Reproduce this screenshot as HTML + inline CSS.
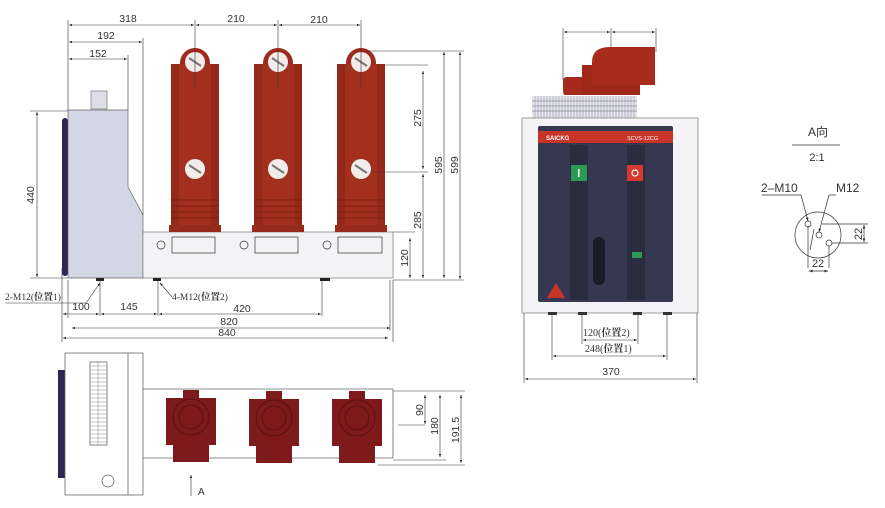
<!DOCTYPE html>
<html><head><meta charset="utf-8"><style>
html,body{margin:0;padding:0;background:#fff;}
svg{display:block;}
text{font-family:"Liberation Sans","Noto Sans CJK SC",sans-serif;fill:#333;}
.s{font-family:"Liberation Serif","Noto Serif CJK SC",serif;}
</style></head><body>
<svg width="885" height="508" viewBox="0 0 885 508" xmlns="http://www.w3.org/2000/svg">
<defs>
<marker id="a" viewBox="0 0 8 8" refX="8" refY="4" markerWidth="5" markerHeight="5" orient="auto-start-reverse"><path d="M0,1L8,4L0,7z" fill="#222"/></marker>
<g id="pole">
<circle cx="0" cy="63" r="15" fill="#9e2a1d"/>
<rect x="-24" y="64" width="48" height="161" fill="#a3301f"/>
<rect x="-24" y="64" width="8" height="161" fill="#8a2417" opacity="0.6"/>
<rect x="16" y="64" width="8" height="161" fill="#8a2417" opacity="0.6"/>
<g stroke="#7a1e12" stroke-width="1"><line x1="-24" y1="200" x2="24" y2="200"/><line x1="-24" y1="206" x2="24" y2="206"/><line x1="-24" y1="212" x2="24" y2="212"/><line x1="-24" y1="218" x2="24" y2="218"/></g>
<rect x="-26" y="225" width="52" height="7" fill="#962a1b"/>
<circle cx="0" cy="62" r="10" fill="#f2ecea"/>
<circle cx="0" cy="169" r="10" fill="#f2ecea"/>
<path d="M-6,58 L6,66 M-6,165 L6,173" stroke="#777" stroke-width="2"/>
</g>
<g id="ins">
<path d="M-8,0 H8 V8 H25 V55 H18 V72 H-18 V55 H-25 V8 H-8 Z" fill="#7e1a1c"/>
<circle cx="0" cy="27" r="18" fill="none" stroke="#5a1012" stroke-width="1"/>
<circle cx="0" cy="27" r="12" fill="none" stroke="#5a1012" stroke-width="1"/>
</g>
</defs>
<g fill="none" stroke="#333" stroke-width="0.7">
<rect x="62" y="118" width="6" height="158" fill="#2e2653" stroke="none" rx="3"/>
<path d="M68,110 H128 V187 L143,215 V278 H68 Z" fill="#d3d6e4" stroke="#666"/>
<rect x="91" y="91" width="16" height="18" fill="#dcdde6" stroke="#777"/>
<rect x="143" y="232" width="250" height="46" fill="#f3f3f6" stroke="#777"/>
<circle cx="161" cy="245" r="4"/><circle cx="244" cy="245" r="4"/><circle cx="327" cy="245" r="4"/>
<rect x="172" y="237" width="43" height="16"/><rect x="255" y="237" width="43" height="16"/><rect x="338" y="237" width="44" height="16"/>
</g>
<use href="#pole" x="195"/><use href="#pole" x="278"/><use href="#pole" x="361"/>
<g fill="none" stroke="#333" stroke-width="0.6">
<line x1="68" y1="20" x2="68" y2="110"/><line x1="143" y1="38" x2="143" y2="215"/><line x1="128" y1="55" x2="128" y2="110"/>
<line x1="195" y1="20" x2="195" y2="88"/><line x1="278" y1="20" x2="278" y2="88"/><line x1="361" y1="20" x2="361" y2="88"/>
<line x1="69" y1="25" x2="194" y2="25" marker-start="url(#a)" marker-end="url(#a)"/>
<line x1="196" y1="25" x2="277" y2="25" marker-start="url(#a)" marker-end="url(#a)"/>
<line x1="279" y1="25" x2="360" y2="25" marker-start="url(#a)" marker-end="url(#a)"/>
<line x1="69" y1="42" x2="142" y2="42" marker-start="url(#a)" marker-end="url(#a)"/>
<line x1="69" y1="59" x2="127" y2="59" marker-start="url(#a)" marker-end="url(#a)"/>
<line x1="365" y1="51" x2="464" y2="51"/><line x1="385" y1="65" x2="428" y2="65"/><line x1="372" y1="172" x2="428" y2="172"/>
<line x1="393" y1="232" x2="415" y2="232"/><line x1="393" y1="280" x2="464" y2="280"/>
<line x1="460" y1="52" x2="460" y2="279" marker-start="url(#a)" marker-end="url(#a)"/>
<line x1="444" y1="52" x2="444" y2="278" marker-start="url(#a)" marker-end="url(#a)"/>
<line x1="423" y1="71" x2="423" y2="169" marker-start="url(#a)" marker-end="url(#a)"/>
<line x1="423" y1="174" x2="423" y2="278" marker-start="url(#a)" marker-end="url(#a)"/>
<line x1="410" y1="238" x2="410" y2="278" marker-start="url(#a)" marker-end="url(#a)"/>
<line x1="30" y1="111" x2="68" y2="111"/><line x1="30" y1="278" x2="68" y2="278"/>
<line x1="37" y1="112" x2="37" y2="277" marker-start="url(#a)" marker-end="url(#a)"/>
<line x1="62" y1="268" x2="62" y2="342"/><line x1="68" y1="280" x2="68" y2="318"/><line x1="100" y1="280" x2="100" y2="316"/>
<line x1="158" y1="280" x2="158" y2="316"/><line x1="322" y1="280" x2="322" y2="316"/><line x1="390" y1="280" x2="390" y2="330"/><line x1="393" y1="280" x2="393" y2="342"/>
<line x1="63" y1="314" x2="99" y2="314" marker-start="url(#a)" marker-end="url(#a)"/>
<line x1="101" y1="314" x2="157" y2="314" marker-start="url(#a)" marker-end="url(#a)"/>
<line x1="159" y1="314" x2="321" y2="314" marker-start="url(#a)" marker-end="url(#a)"/>
<line x1="72" y1="328" x2="390" y2="328" marker-start="url(#a)" marker-end="url(#a)"/>
<line x1="63" y1="338" x2="388" y2="338" marker-start="url(#a)" marker-end="url(#a)"/>
<line x1="5" y1="303" x2="86" y2="303"/><line x1="86" y1="303" x2="100" y2="283" marker-end="url(#a)"/>
<line x1="172" y1="297" x2="160" y2="283" marker-end="url(#a)"/>
</g>
<g fill="#222">
<rect x="96" y="278" width="8" height="3"/><rect x="153" y="278" width="8" height="3"/><rect x="320" y="278" width="10" height="3"/>
</g>
<g font-size="10.5">
<text x="128" y="22" text-anchor="middle">318</text>
<text x="236" y="22" text-anchor="middle">210</text>
<text x="319" y="23" text-anchor="middle">210</text>
<text x="106" y="39" text-anchor="middle">192</text>
<text x="98" y="57" text-anchor="middle">152</text>
<text x="81" y="314" text-anchor="middle" dy="-4">100</text>
<text x="129" y="310" text-anchor="middle">145</text>
<text x="242" y="312" text-anchor="middle">420</text>
<text x="229" y="325" text-anchor="middle">820</text>
<text x="227" y="336" text-anchor="middle">840</text>
<text transform="translate(34,195) rotate(-90)" text-anchor="middle">440</text>
<text transform="translate(421,118) rotate(-90)" text-anchor="middle">275</text>
<text transform="translate(421,220) rotate(-90)" text-anchor="middle">285</text>
<text transform="translate(408,258) rotate(-90)" text-anchor="middle">120</text>
<text transform="translate(442,165) rotate(-90)" text-anchor="middle">595</text>
<text transform="translate(458,165) rotate(-90)" text-anchor="middle">599</text>
</g>
<text class="s" x="5" y="300" font-size="9.5">2-M12(<tspan font-weight="bold">位置</tspan>1)</text>
<text class="s" x="172" y="300" font-size="9.5">4-M12(<tspan font-weight="bold">位置</tspan>2)</text>

<g stroke="#333" stroke-width="0.6" fill="none">
<line x1="563" y1="28" x2="563" y2="80"/><line x1="611" y1="28" x2="611" y2="65"/><line x1="656" y1="28" x2="656" y2="52"/>
<line x1="564" y1="32" x2="610" y2="32" marker-start="url(#a)" marker-end="url(#a)"/>
<line x1="612" y1="32" x2="655" y2="32" marker-start="url(#a)" marker-end="url(#a)"/>
</g>
<path d="M567,77 H584 V95 H565 Q563,95 563,90 V81 Q563,77 567,77 Z" fill="#a52a1c"/>
<path d="M582,65 H630 L640,80 V95 H582 Z" fill="#a02818"/>
<path d="M592,85 V62 Q592,47 610,47 H655 V85 Z" fill="#a82c1d"/>
<rect x="532" y="96" width="105" height="22" fill="#e4e4ea"/>
<g stroke="#8a8aa0" stroke-width="0.8">
<line x1="532" y1="101" x2="637" y2="101"/><line x1="532" y1="106" x2="637" y2="106"/><line x1="532" y1="111" x2="637" y2="111"/>
</g>
<g stroke="#9a9ab0" stroke-width="0.6">
<path d="M535,96v22M538,96v22M541,96v22M544,96v22M547,96v22M550,96v22M553,96v22M556,96v22M559,96v22M562,96v22M565,96v22M568,96v22M571,96v22M574,96v22M577,96v22M580,96v22M583,96v22M586,96v22M589,96v22M592,96v22M595,96v22M598,96v22M601,96v22M604,96v22M607,96v22M610,96v22M613,96v22M616,96v22M619,96v22M622,96v22M625,96v22M628,96v22M631,96v22M634,96v22"/>
</g>
<rect x="522" y="118" width="176" height="195" fill="#f4f4f6" stroke="#888" stroke-width="0.8"/>
<rect x="538" y="126" width="135" height="176" fill="#353850" rx="2"/>
<rect x="538" y="131" width="135" height="12" fill="#c83428"/>
<text x="546" y="140" font-size="6" font-weight="bold" style="fill:#fff">SAICKG</text>
<text x="627" y="140" font-size="5.5" style="fill:#fff">SCVS-12CG</text>
<rect x="570" y="145" width="18" height="155" fill="#2a2c40"/>
<rect x="627" y="145" width="18" height="155" fill="#2a2c40"/>
<rect x="571" y="165" width="16" height="16" fill="#2c9a55"/>
<rect x="627" y="165" width="16" height="16" fill="#d43a30"/>
<circle cx="635" cy="173" r="3" fill="none" stroke="#fff" stroke-width="1.2"/>
<rect x="578" y="169" width="1.5" height="8" fill="#fff"/>
<rect x="593" y="237" width="12" height="48" rx="6" fill="#1a1b28"/>
<rect x="632" y="252" width="10" height="6" fill="#2c9a55"/>
<path d="M556,283 L565,298 H547 Z" fill="#c83428"/>
<g fill="#333"><rect x="548" y="312" width="9" height="3"/><rect x="578" y="312" width="9" height="3"/><rect x="633" y="312" width="9" height="3"/><rect x="663" y="312" width="9" height="3"/></g>
<g stroke="#333" stroke-width="0.6" fill="none">
<line x1="552" y1="314" x2="552" y2="360"/><line x1="582" y1="314" x2="582" y2="344"/><line x1="638" y1="314" x2="638" y2="344"/><line x1="667" y1="314" x2="667" y2="360"/>
<line x1="524" y1="313" x2="524" y2="383"/><line x1="697" y1="313" x2="697" y2="383"/>
<line x1="583" y1="340" x2="637" y2="340" marker-start="url(#a)" marker-end="url(#a)"/>
<line x1="553" y1="356" x2="666" y2="356" marker-start="url(#a)" marker-end="url(#a)"/>
<line x1="525" y1="379" x2="696" y2="379" marker-start="url(#a)" marker-end="url(#a)"/>
</g>
<text class="s" x="583" y="336" font-size="10">120(<tspan font-weight="bold">位置</tspan>2)</text>
<text class="s" x="585" y="352" font-size="10">248(<tspan font-weight="bold">位置</tspan>1)</text>
<text x="611" y="375" font-size="10.5" text-anchor="middle">370</text>

<rect x="58" y="370" width="7" height="108" fill="#2e2653"/>
<g fill="none" stroke="#666" stroke-width="0.8">
<rect x="65" y="353" width="78" height="142" fill="#fff"/>
<line x1="128" y1="353" x2="128" y2="495"/>
<rect x="90" y="362" width="17" height="83"/>
<circle cx="108" cy="481" r="6"/>
<line x1="143" y1="389" x2="393" y2="389"/><line x1="143" y1="458" x2="393" y2="458"/><line x1="393" y1="389" x2="393" y2="458"/>
</g>
<g stroke="#888" stroke-width="0.5"><path d="M90,366h17M90,370h17M90,374h17M90,378h17M90,382h17M90,386h17M90,390h17M90,394h17M90,398h17M90,402h17M90,406h17M90,410h17M90,414h17M90,418h17M90,422h17M90,426h17M90,430h17M90,434h17M90,438h17M90,442h17"/><line x1="98" y1="362" x2="98" y2="445"/></g>
<use href="#ins" x="191" y="390"/><use href="#ins" x="274" y="391"/><use href="#ins" x="357" y="391"/>
<g stroke="#333" stroke-width="0.6" fill="none">
<line x1="393" y1="391" x2="465" y2="391"/><line x1="398" y1="425" x2="425" y2="425"/><line x1="393" y1="460" x2="446" y2="460"/><line x1="378" y1="465" x2="465" y2="465"/>
<line x1="425" y1="395" x2="425" y2="424" marker-start="url(#a)" marker-end="url(#a)"/>
<line x1="440" y1="395" x2="440" y2="457" marker-start="url(#a)" marker-end="url(#a)"/>
<line x1="461" y1="395" x2="461" y2="463" marker-start="url(#a)" marker-end="url(#a)"/>
<line x1="191" y1="496" x2="191" y2="475" marker-end="url(#a)"/>
</g>
<g font-size="10.5">
<text transform="translate(423,410) rotate(-90)" text-anchor="middle">90</text>
<text transform="translate(438,426) rotate(-90)" text-anchor="middle">180</text>
<text transform="translate(459,430) rotate(-90)" text-anchor="middle">191.5</text>
<text x="198" y="495" font-size="10">A</text>
</g>

<text x="818" y="136" font-size="12" text-anchor="middle">A向</text>
<line x1="792" y1="145" x2="840" y2="145" stroke="#333" stroke-width="0.7"/>
<text x="817" y="161" font-size="11" text-anchor="middle">2:1</text>
<text x="761" y="192" font-size="12">2–M10</text>
<text x="836" y="192" font-size="12">M12</text>
<g stroke="#333" stroke-width="0.7" fill="none">
<circle cx="818" cy="235" r="23"/>
<circle cx="808" cy="224" r="3"/><circle cx="819" cy="235" r="3"/><circle cx="829" cy="243" r="3"/>
<line x1="762" y1="195" x2="801" y2="195"/><line x1="801" y1="195" x2="808" y2="221" marker-end="url(#a)"/>
<line x1="836" y1="195" x2="829" y2="195"/><line x1="829" y1="195" x2="819" y2="232" marker-end="url(#a)"/>
<line x1="814" y1="229" x2="810" y2="250"/><line x1="808" y1="226" x2="808" y2="268"/><line x1="829" y1="246" x2="829" y2="268"/>
<line x1="822" y1="224" x2="868" y2="224"/><line x1="832" y1="243" x2="868" y2="243"/>
<line x1="864" y1="225" x2="864" y2="242" marker-start="url(#a)" marker-end="url(#a)"/>
<line x1="809" y1="271" x2="828" y2="271" marker-start="url(#a)" marker-end="url(#a)"/>
</g>
<text x="818" y="267" font-size="11" text-anchor="middle">22</text>
<text transform="translate(862,234) rotate(-90)" font-size="11" text-anchor="middle">22</text>
</svg>
</body></html>
